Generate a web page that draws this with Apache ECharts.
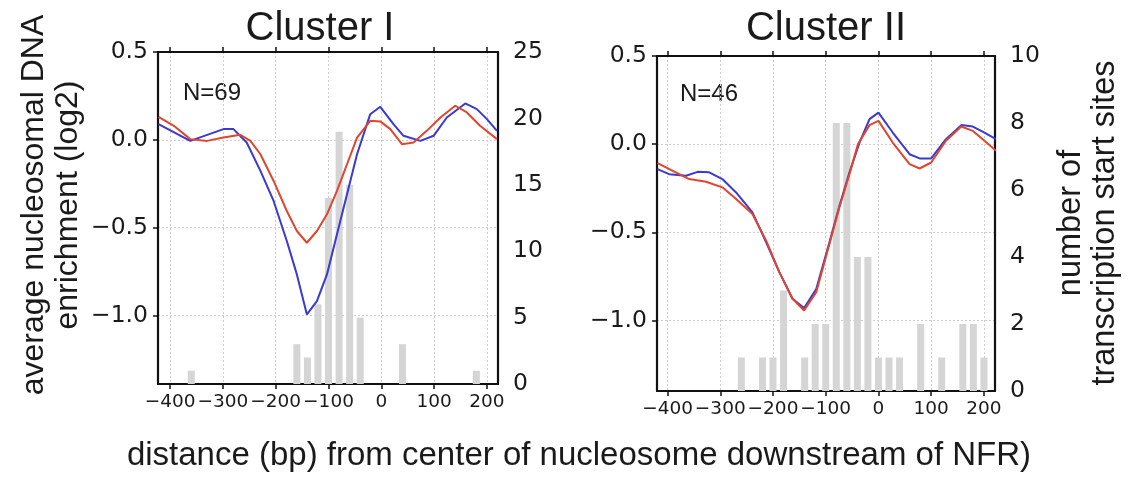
<!DOCTYPE html>
<html>
<head>
<meta charset="utf-8">
<script src="https://cdn.jsdelivr.net/npm/echarts@6/dist/echarts.min.js"></script>
<style>
html,body{margin:0;padding:0;background:#fff;}
#chart{width:1128px;height:485px;}
</style>
</head>
<body>
<div id="chart"></div>
<script>
// ---- Tick labels ----
const xTicks = [-400, -300, -200, -100, 0, 100, 200];
const enrichTicks = [0.5, 0.0, -0.5, -1.0];
const countTicksI = [0, 5, 10, 15, 20, 25];
const countTicksII = [0, 2, 4, 6, 8, 10];

// ---- Cluster I ----
const blueIx = [-422, -362, -299, -280, -255, -229, -204, -179, -160, -141, -122, -103, -84, -65, -46, -21, -2, 23, 42, 74, 99, 124, 159, 181, 200, 219];
const blueIy = [0.089, -0.006, 0.061, 0.061, -0.015, -0.177, -0.348, -0.576, -0.766, -0.994, -0.918, -0.766, -0.538, -0.31, -0.082, 0.146, 0.188, 0.089, 0.023, -0.006, 0.023, 0.127, 0.207, 0.175, 0.118, 0.051];
const redIx = [-422, -393, -362, -330, -299, -267, -248, -229, -204, -179, -160, -141, -122, -103, -84, -65, -46, -21, -2, 17, 39, 61, 86, 112, 140, 162, 187, 219];
const redIy = [0.131, 0.08, 0.004, -0.006, 0.013, 0.029, -0.006, -0.082, -0.234, -0.405, -0.519, -0.586, -0.519, -0.424, -0.291, -0.139, 0.013, 0.108, 0.105, 0.061, -0.025, -0.015, 0.051, 0.127, 0.194, 0.156, 0.08, 0.004];
const binsI = [-360, -160, -140, -120, -100, -80, -60, -40, 40, 180];
const countsI = [1, 3, 2, 6, 14, 19, 15, 5, 3, 1];

// ---- Cluster II ----
const blueIIx = [-419, -397, -365, -343, -321, -296, -270, -239, -213, -188, -163, -141, -118, -93, -74, -55, -36, -17, 0, 27, 59, 78, 100, 128, 157, 179, 201, 223];
const blueIIy = [-0.142, -0.17, -0.179, -0.157, -0.16, -0.198, -0.274, -0.387, -0.557, -0.726, -0.877, -0.93, -0.821, -0.557, -0.349, -0.16, 0.009, 0.142, 0.179, 0.066, -0.057, -0.081, -0.081, 0.028, 0.108, 0.1, 0.066, 0.028];
const redIIx = [-419, -390, -359, -327, -296, -270, -239, -213, -188, -163, -141, -118, -93, -74, -55, -39, -17, 0, 27, 59, 78, 100, 128, 157, 179, 201, 223];
const redIIy = [-0.108, -0.151, -0.198, -0.213, -0.245, -0.311, -0.396, -0.547, -0.726, -0.877, -0.943, -0.84, -0.566, -0.358, -0.17, 0.0, 0.108, 0.132, 0.009, -0.113, -0.138, -0.104, 0.019, 0.1, 0.075, 0.019, -0.038];
const binsII = [-260, -220, -200, -180, -140, -120, -100, -80, -60, -40, -20, 0, 20, 40, 80, 120, 160, 180, 200];
const countsII = [1, 1, 1, 3, 1, 2, 2, 8, 8, 4, 4, 1, 1, 1, 2, 1, 2, 2, 1];

const zip = (a, b) => a.map((v, i) => [v, b[i]]);
const minus = s => String(s).replace('-', '\u2212');
const TXT = '#1a1a1a';
const TICKFONT = 'DejaVu Sans';
const SANS = 'Liberation Sans, Arial, sans-serif';
const gridLine = { show: true, lineStyle: { color: '#cfcfcf', type: [2, 2], width: 1 } };
const frame = { show: true, onZero: false, lineStyle: { color: '#111', width: 2.2 } };
const tickStyle = { color: '#111', width: 1.5 };

function xAxes(gi, min, max) {
  return [
    { type: 'value', gridIndex: gi, position: 'bottom', min: min, max: max,
      axisLine: frame,
      axisTick: { show: true, customValues: xTicks, length: 5, lineStyle: tickStyle },
      axisLabel: { customValues: xTicks, formatter: v => minus(v), color: TXT, fontFamily: TICKFONT, fontSize: 18.5, margin: 9 },
      splitLine: gridLine },
    { type: 'value', gridIndex: gi, position: 'top', min: min, max: max,
      axisLine: frame,
      axisTick: { show: true, customValues: xTicks, length: 5, lineStyle: tickStyle },
      axisLabel: { show: false }, splitLine: { show: false } }
  ];
}
function yAxes(gi, min, max, cmax, cint, cTicks) {
  return [
    { type: 'value', gridIndex: gi, position: 'left', min: min, max: max,
      axisLine: frame,
      axisTick: { show: true, customValues: enrichTicks, length: 5, lineStyle: tickStyle },
      axisLabel: { customValues: enrichTicks, formatter: v => minus(v.toFixed(1)), color: TXT, fontFamily: TICKFONT, fontSize: 23.5, margin: 10 },
      splitLine: gridLine },
    { type: 'value', gridIndex: gi, position: 'right', min: 0, max: cmax, interval: cint,
      axisLine: frame,
      axisTick: { show: false },
      axisLabel: { customValues: cTicks, color: TXT, fontFamily: TICKFONT, fontSize: 23.5, margin: 15 },
      splitLine: { show: false } }
  ];
}

const BLUE = '#3a3ad0';
const RED = '#e0462e';
const BAR = '#d5d5d5';

const option = {
  animation: false,
  backgroundColor: '#fff',
  grid: [
    { left: 158, top: 52, width: 340, height: 332 },
    { left: 657, top: 56, width: 338, height: 335 }
  ],
  xAxis: [...xAxes(0, -423, 221), ...xAxes(1, -420, 221)],
  yAxis: [...yAxes(0, -1.39, 0.5, 25, 5, countTicksI), ...yAxes(1, -1.4, 0.5, 10, 2, countTicksII)],
  series: [
    { type: 'bar', xAxisIndex: 0, yAxisIndex: 1, data: zip(binsI, countsI), barWidth: 7, itemStyle: { color: BAR }, z: 1 },
    { type: 'line', xAxisIndex: 0, yAxisIndex: 0, data: zip(blueIx, blueIy), showSymbol: false, lineStyle: { color: BLUE, width: 2 }, clip: true, z: 3 },
    { type: 'line', xAxisIndex: 0, yAxisIndex: 0, data: zip(redIx, redIy), showSymbol: false, lineStyle: { color: RED, width: 2 }, clip: true, z: 4 },
    { type: 'bar', xAxisIndex: 2, yAxisIndex: 3, data: zip(binsII, countsII), barWidth: 7, itemStyle: { color: BAR }, z: 1 },
    { type: 'line', xAxisIndex: 2, yAxisIndex: 2, data: zip(blueIIx, blueIIy), showSymbol: false, lineStyle: { color: BLUE, width: 2 }, clip: true, z: 3 },
    { type: 'line', xAxisIndex: 2, yAxisIndex: 2, data: zip(redIIx, redIIy), showSymbol: false, lineStyle: { color: RED, width: 2 }, clip: true, z: 4 }
  ],
  graphic: [
    { type: 'text', x: 320, y: 29, style: { text: 'Cluster I', font: '40px ' + SANS, fill: TXT, textAlign: 'center', textVerticalAlign: 'middle' } },
    { type: 'text', x: 826, y: 29, style: { text: 'Cluster II', font: '40px ' + SANS, fill: TXT, textAlign: 'center', textVerticalAlign: 'middle' } },
    { type: 'text', x: 183, y: 93, style: { text: 'N=69', font: '24px ' + SANS, fill: TXT, textAlign: 'left', textVerticalAlign: 'middle' } },
    { type: 'text', x: 680, y: 94, style: { text: 'N=46', font: '24px ' + SANS, fill: TXT, textAlign: 'left', textVerticalAlign: 'middle' } },
    { type: 'text', x: 51, y: 205, rotation: Math.PI / 2, style: { text: 'average nucleosomal DNA\nenrichment (log2)', font: '32px ' + SANS, lineHeight: 34, fill: TXT, textAlign: 'center', textVerticalAlign: 'middle' } },
    { type: 'text', x: 1088, y: 223, rotation: Math.PI / 2, style: { text: 'number of\ntranscription start sites', font: '32.5px ' + SANS, lineHeight: 34, fill: TXT, textAlign: 'center', textVerticalAlign: 'middle' } },
    { type: 'text', x: 579, y: 456, style: { text: 'distance (bp) from center of nucleosome downstream of NFR)', font: '33px ' + SANS, fill: TXT, textAlign: 'center', textVerticalAlign: 'middle' } }
  ]
};

const chart = echarts.init(document.getElementById('chart'), null, { renderer: 'canvas' });
chart.setOption(option);
</script>
</body>
</html>
